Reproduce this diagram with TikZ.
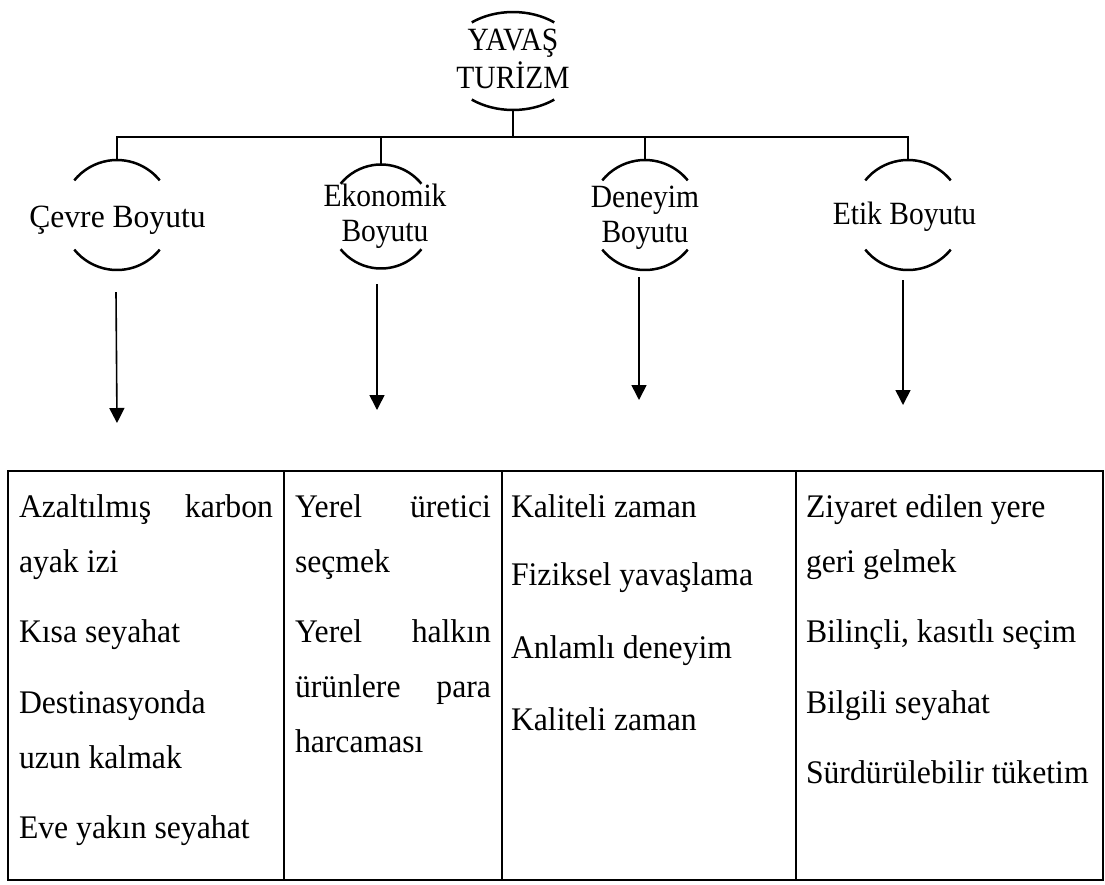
\documentclass[tikz,border=0pt]{standalone}
\usepackage{fontspec}
\setmainfont{Liberation Serif}
\usetikzlibrary{arrows.meta,shapes.geometric}

% slightly taller glyphs, as in the printed figure
\newcommand\vtxt[1]{\scalebox{1}[1.1]{#1}}
\newcommand\ctxt[1]{\scalebox{1}[1.04]{#1}}
% two open rims (top and bottom) of a dimension circle
\newcommand\hubrims[2]{%
  \draw[rim] ([shift={(-39:#2)}]#1.center) arc[start angle=-39,end angle=-141,radius=#2];
  \draw[rim] ([shift={(39:#2)}]#1.center) arc[start angle=39,end angle=141,radius=#2];}

\begin{document}
\begin{tikzpicture}[x=1pt,y=-1pt,
  every node/.style={inner sep=0pt,outer sep=0pt},
  bigfont/.style={font=\fontsize{29.5}{31.5}\selectfont},
  cellfont/.style={font=\fontsize{31.7}{34}\selectfont},
  treeline/.style={line width=2.6pt,line join=miter},
  rim/.style={line width=2.5pt},
  flow/.style={line width=1.6pt,-{Triangle[length=15pt,width=15pt]}},
  grid/.style={line width=2.8pt},
  head/.style={bigfont,anchor=base,align=center},
  cell/.style={cellfont,anchor=base west},
]
\useasboundingbox (0,0) rectangle (1105,884);

% ---- root and the four dimensions ----
\node[ellipse,minimum width=134pt,minimum height=98pt] (root) at (513,61) {};
\node[circle,minimum size=110pt] (cevre) at (117,215) {};
\node[circle,minimum size=104pt] (eko)   at (381,216.5) {};
\node[circle,minimum size=110pt] (den)   at (645,215) {};
\node[circle,minimum size=110pt] (etik)  at (908,215) {};

\draw[rim] ([shift={(41.25,-38.6)}]root.center) arc[start angle=-52,end angle=-128,x radius=67,y radius=49];
\draw[rim] ([shift={(41.25,38.6)}]root.center) arc[start angle=52,end angle=128,x radius=67,y radius=49];
\hubrims{cevre}{55}
\hubrims{eko}{52}
\hubrims{den}{55}
\hubrims{etik}{55}

\node[head] (rootT) at (513,88) {\vtxt{\begin{tabular}[b]{@{}c@{}}YAVAŞ\\TURİZM\end{tabular}}};
\node[head] (cevreT) at (117.5,227) {\scalebox{1.07}[1.1]{Çevre Boyutu}};
\node[head] (ekoT) at (385,241) {\vtxt{\begin{tabular}[b]{@{}c@{}}Ekonomik\\Boyutu\end{tabular}}};
\node[head] (denT) at (645,242) {\vtxt{\begin{tabular}[b]{@{}c@{}}Deneyim\\Boyutu\end{tabular}}};
\node[head] (etikT) at (904.5,224) {\vtxt{Etik Boyutu}};

% ---- tree connectors ----
\coordinate (junction) at (513,137);
\draw[treeline] (root.south) -- (junction);
\draw[treeline] (cevre.north) -- (cevre.north |- junction) -- (etik.north |- junction) -- (etik.north);
\draw[treeline] (eko.north) -- (eko.north |- junction);
\draw[treeline] (den.north) -- (den.north |- junction);

% ---- arrows down to the table ----
\coordinate (a1s) at (116,292);  \coordinate (a1e) at (117,423);
\coordinate (a2s) at (377,284);  \coordinate (a2e) at (377,410);
\coordinate (a3s) at (639,277);  \coordinate (a3e) at (639,400);
\coordinate (a4s) at (903,280);  \coordinate (a4e) at (903,405);
\draw[flow] (a1s) -- (a1e);
\draw[flow] (a2s) -- (a2e);
\draw[flow] (a3s) -- (a3e);
\draw[flow] (a4s) -- (a4e);

% ---- table ----
\draw[grid] (8,471) rectangle (1103,880);
\draw[grid] (284,471) -- (284,880);
\draw[grid] (502,471) -- (502,880);
\draw[grid] (796,471) -- (796,880);

% column 1
\node[cell] (c1a) at (19,517) {\ctxt{\hbox to 254pt{Azaltılmış\hfill karbon}}};
\node[cell] (c1b) at (19,572) {\ctxt{ayak izi}};
\node[cell] (c1c) at (19,642) {\ctxt{Kısa seyahat}};
\node[cell] (c1d) at (19,713) {\ctxt{Destinasyonda}};
\node[cell] (c1e) at (19,768) {\ctxt{uzun kalmak}};
\node[cell] (c1f) at (19,838) {\ctxt{Eve yakın seyahat}};
% column 2
\node[cell] (c2a) at (295,517) {\ctxt{\hbox to 196pt{Yerel\hfill üretici}}};
\node[cell] (c2b) at (295,572) {\ctxt{seçmek}};
\node[cell] (c2c) at (295,642) {\ctxt{\hbox to 196pt{Yerel\hfill halkın}}};
\node[cell] (c2d) at (295,697) {\ctxt{\hbox to 196pt{ürünlere\hfill para}}};
\node[cell] (c2e) at (295,752) {\ctxt{harcaması}};
% column 3
\node[cell] (c3a) at (511,517) {\ctxt{Kaliteli zaman}};
\node[cell] (c3b) at (511,585) {\ctxt{Fiziksel yavaşlama}};
\node[cell] (c3c) at (511,658) {\ctxt{Anlamlı deneyim}};
\node[cell] (c3d) at (511,730) {\ctxt{Kaliteli zaman}};
% column 4
\node[cell] (c4a) at (806,517) {\ctxt{Ziyaret edilen yere}};
\node[cell] (c4b) at (806,572) {\ctxt{geri gelmek}};
\node[cell] (c4c) at (806,642) {\ctxt{Bilinçli, kasıtlı seçim}};
\node[cell] (c4d) at (806,713) {\ctxt{Bilgili seyahat}};
\node[cell] (c4e) at (806,783) {\ctxt{Sürdürülebilir tüketim}};
\end{tikzpicture}
\end{document}
